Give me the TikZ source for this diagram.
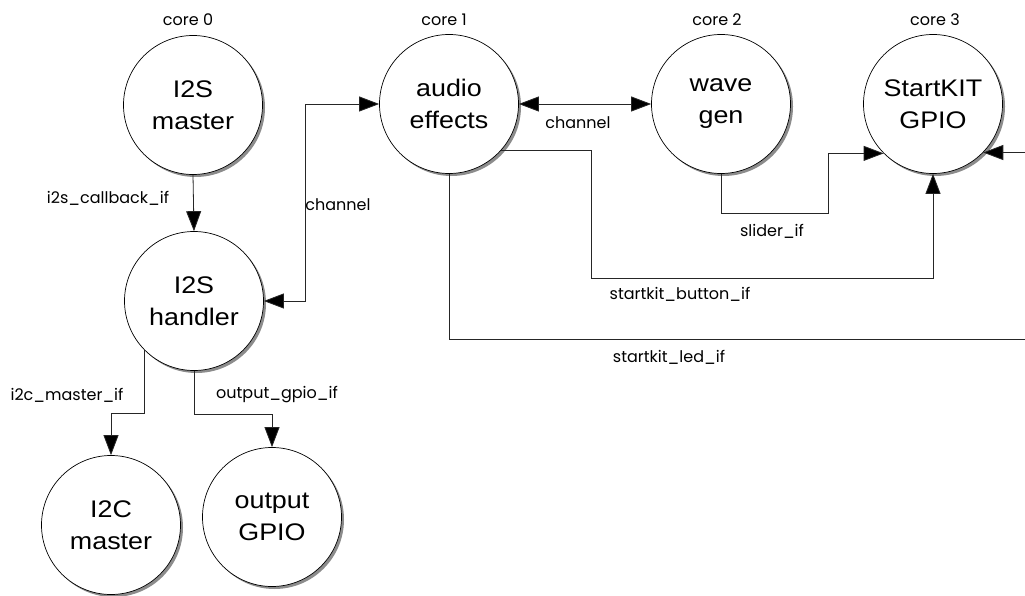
\documentclass[tikz,border=0pt]{standalone}
\usepackage{fontspec}
\newfontfamily\nodefont{Liberation Sans}[FakeStretch=1.12]
\newfontfamily\lblfont{Poppins}
\usetikzlibrary{arrows.meta,shadows}

\begin{document}
\begin{tikzpicture}[x=1pt,y=-1pt,
  task/.style={circle, draw=black, line width=0.7pt, fill=white,
    minimum size=139pt, inner sep=0pt, align=center,
    font=\nodefont\fontsize{24}{32}\selectfont,
    drop shadow={shadow xshift=2.5pt, shadow yshift=-2.5pt, fill=black!45, opacity=1}},
  link/.style={draw=black!85, line width=0.8pt},
  tipend/.style={-{Triangle[length=20pt,width=15pt,fill=black]}},
  tipboth/.style={{Triangle[length=20pt,width=15pt,fill=black]}-{Triangle[length=20pt,width=15pt,fill=black]}},
  lbl/.style={font=\lblfont\fontsize{16}{18}\selectfont, inner sep=0pt},
]
\fill[white] (0,0) rectangle (1025,596);
\useasboundingbox (0,0) rectangle (1025,596);
\clip (0,0) rectangle (1025,596);

% tasks
\node[task] (i2sm) at (193,105) {I2S\\master};
\node[task] (i2sh) at (194,301) {I2S\\handler};
\node[task] (i2c)  at (111,525) {I2C\\master};
\node[task] (ogp)  at (272,517) {output\\GPIO};
\node[task] (ae)   at (449,104) {audio\\effects};
\node[task] (wg)   at (721,104) {wave\\gen};
\node[task] (sk)   at (933,104) {StartKIT\\GPIO};

% core labels
\node[lbl] (c0) at (188,20) {core 0};
\node[lbl] (c1) at (444,20) {core 1};
\node[lbl] (c2) at (717,20) {core 2};
\node[lbl] (c3) at (935,20) {core 3};

% connections
\draw[link,tipend] (i2sm.south) -- (i2sh.north);
\draw[link,tipboth] (i2sh.east) -- ++(42,0) |- (ae.west);
\draw[link,tipboth] (ae.east) -- (wg.west);
\draw[link,tipend] (wg.south) |- (828,213) |- (sk.225);
\draw[link,tipend] (ae.318) -| (591,278) -| (sk.south);
\draw[link,tipend] (ae.south) |- (1060,339) |- (sk.316);
\draw[link,tipend] (i2sh.225) -- ++(0,63) -| (i2c.north);
\draw[link,tipend] (i2sh.south) -- ++(0,44) -| (ogp.north);

% interface labels
\node[lbl] (l1) at (108,198) {i2s\_callback\_if};
\node[lbl] (l2) at (338,205) {channel};
\node[lbl] (l3) at (578,123) {channel};
\node[lbl] (l4) at (772,231) {slider\_if};
\node[lbl] (l5) at (680,294) {startkit\_button\_if};
\node[lbl] (l6) at (669,357) {startkit\_led\_if};
\node[lbl] (l7) at (67,395) {i2c\_master\_if};
\node[lbl] (l8) at (277,395) {output\_gpio\_if};
\end{tikzpicture}
\end{document}
